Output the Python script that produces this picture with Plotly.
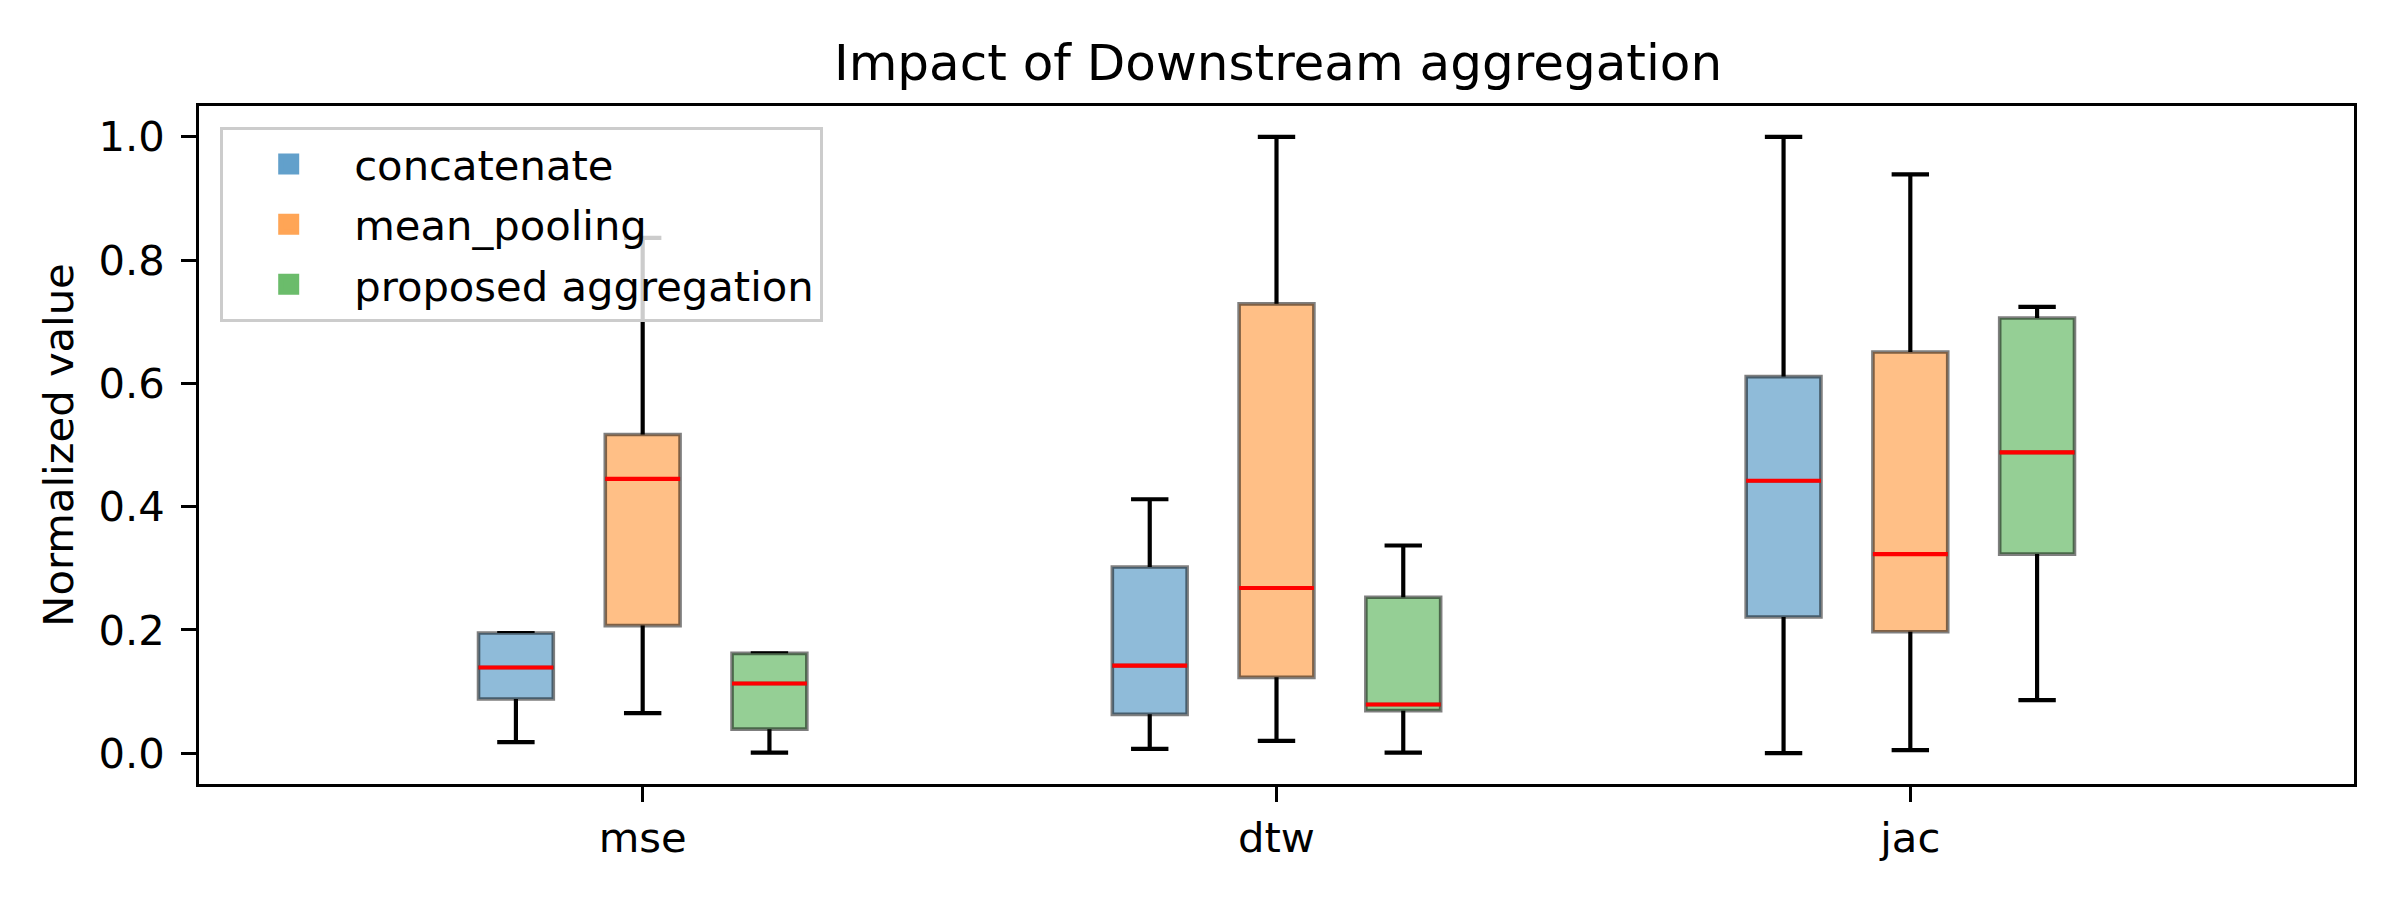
import plotly.graph_objects as go

# ---- data ----
metrics = ["mse", "dtw", "jac"]
metric_pos = [1, 2, 3]
series = ["concatenate", "mean_pooling", "proposed aggregation"]
offsets = [-0.2, 0.0, 0.2]

lower = {
    "concatenate":          [0.018, 0.007, 0.000],
    "mean_pooling":         [0.065, 0.020, 0.005],
    "proposed aggregation": [0.001, 0.001, 0.086],
}
q1 = {
    "concatenate":          [0.088, 0.063, 0.221],
    "mean_pooling":         [0.207, 0.123, 0.197],
    "proposed aggregation": [0.039, 0.069, 0.323],
}
median = {
    "concatenate":          [0.139, 0.142, 0.442],
    "mean_pooling":         [0.445, 0.268, 0.323],
    "proposed aggregation": [0.113, 0.079, 0.488],
}
q3 = {
    "concatenate":          [0.195, 0.302, 0.611],
    "mean_pooling":         [0.517, 0.729, 0.651],
    "proposed aggregation": [0.162, 0.253, 0.706],
}
upper = {
    "concatenate":          [0.195, 0.412, 1.000],
    "mean_pooling":         [0.836, 1.000, 0.939],
    "proposed aggregation": [0.162, 0.337, 0.724],
}

yticks = [0.0, 0.2, 0.4, 0.6, 0.8, 1.0]

# ---- styles ----
fill_colors = {
    "concatenate": "rgb(143,187,217)",
    "mean_pooling": "rgb(255,191,134)",
    "proposed aggregation": "rgb(149,207,149)",
}
legend_colors = {
    "concatenate": "rgb(98,160,203)",
    "mean_pooling": "rgb(255,165,86)",
    "proposed aggregation": "rgb(107,188,107)",
}
FONT = "DejaVu Sans"
BOX_W = 0.118
LW = 4.17

fig = go.Figure()

for s, off in zip(series, offsets):
    xs = [p + off for p in metric_pos]
    # whiskers + caps (box collapsed onto the median, hidden under the filled box)
    fig.add_trace(go.Box(
        x=xs, q1=median[s], median=median[s], q3=median[s],
        lowerfence=lower[s], upperfence=upper[s],
        width=BOX_W, whiskerwidth=0.5,
        line=dict(color="black", width=LW),
        fillcolor="rgba(0,0,0,0)",
        showlegend=False, hoverinfo="skip",
    ))
    # filled box
    fig.add_trace(go.Box(
        x=xs, q1=q1[s], median=median[s], q3=q3[s],
        lowerfence=q1[s], upperfence=q3[s],
        width=BOX_W, whiskerwidth=0,
        line=dict(color="rgba(0,0,0,0.5)", width=3.6),
        fillcolor=fill_colors[s],
        showlegend=False, hoverinfo="skip",
    ))
    # red median lines
    mx, my = [], []
    for x, m in zip(xs, median[s]):
        mx += [x - BOX_W / 2, x + BOX_W / 2, None]
        my += [m, m, None]
    fig.add_trace(go.Scatter(
        x=mx, y=my, mode="lines",
        line=dict(color="red", width=LW),
        showlegend=False, hoverinfo="skip",
    ))

# legend entries
for s in series:
    fig.add_trace(go.Scatter(
        x=[None], y=[None], mode="markers", name=s, legendgroup=s,
        marker=dict(symbol="square", size=16, color=legend_colors[s],
                    line=dict(color=legend_colors[s], width=5)),
    ))

fig.update_layout(
    width=2400, height=900,
    margin=dict(l=199, r=46, t=106, b=116),
    paper_bgcolor="white", plot_bgcolor="white",
    font=dict(family=FONT, size=41.7, color="black"),
    title=dict(
        text="Impact of Downstream aggregation",
        font=dict(family=FONT, size=50, color="black"),
        x=0.5325, xanchor="center", y=1 - 62 / 900, yanchor="middle",
        yref="container",
    ),
    showlegend=True,
    legend=dict(
        x=0.0097, y=0.969, xanchor="left", yanchor="top",
        bgcolor="rgba(255,255,255,0.8)", bordercolor="#cccccc", borderwidth=3.3,
        font=dict(family=FONT, size=41.7, color="black"),
        itemsizing="trace", tracegroupgap=3, itemwidth=121,
    ),
    xaxis=dict(
        range=[0.3, 3.7], tickvals=metric_pos, ticktext=metrics,
        showgrid=False, zeroline=False,
        showline=True, linecolor="black", linewidth=3.3, mirror=True,
        ticks="outside", ticklen=14.6, tickwidth=3.3, tickcolor="black",
        tickfont=dict(family=FONT, size=41.7, color="black"),
    ),
    yaxis=dict(
        range=[-0.05, 1.05], tickvals=yticks, tickformat=".1f",
        showgrid=False, zeroline=False,
        showline=True, linecolor="black", linewidth=3.3, mirror=True,
        ticks="outside", ticklen=14.6, tickwidth=3.3, tickcolor="black",
        tickfont=dict(family=FONT, size=41.7, color="black"),
        title=dict(text="Normalized value", standoff=13,
                   font=dict(family=FONT, size=41.7, color="black")),
        ticklabelstandoff=8,
    ),
)

fig.write_html("out.html")
